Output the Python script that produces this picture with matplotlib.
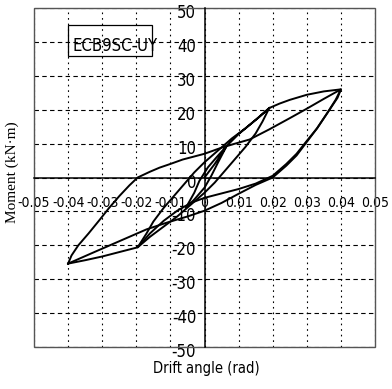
import matplotlib
matplotlib.use("Agg")
import matplotlib.pyplot as plt
from matplotlib.patches import Rectangle
from matplotlib.transforms import ScaledTranslation

# Specimen ECB9SC-UY: moment vs drift angle, cyclic loading history
specimen = "ECB9SC-UY"

# Small cycles (about +/-0.007 rad)
small_drift = [0.0, 0.003, 0.0065, 0.004, 0.002, 0.0, -0.003, -0.0055,
               -0.003, -0.0015, 0.001, 0.004, 0.0065]
small_moment = [0.0, 4.0, 9.3, 4.5, 0.5, -3.0, -6.5, -9.0,
                -4.5, -1.0, 3.0, 6.5, 9.3]

# Cycle to +/-0.02 rad
mid_drift = [0.0065, 0.010, 0.015, 0.019, 0.017, 0.015, 0.012, 0.009, 0.006,
             0.003, 0.0, -0.004, -0.008, -0.012, -0.016, -0.0196,
             -0.017, -0.015, -0.012, -0.009, -0.006, -0.003, 0.0, 0.004,
             0.008, 0.012, 0.016, 0.019]
mid_moment = [9.3, 12.8, 17.0, 20.5, 16.5, 13.0, 9.0, 5.5, 2.0,
              -1.5, -4.5, -8.0, -11.5, -14.5, -17.5, -20.6,
              -16.5, -13.0, -9.0, -5.5, -2.0, 1.5, 4.5, 8.0,
              11.5, 14.5, 17.8, 20.5]

# First cycle to +/-0.04 rad
big1_drift = [0.019, 0.022, 0.025, 0.030, 0.035, 0.040,
              0.039, 0.037, 0.035, 0.033, 0.030, 0.027, 0.024, 0.020,
              0.015, 0.010, 0.005, 0.0, -0.004, -0.008, -0.012, -0.016,
              -0.0196, -0.025, -0.030, -0.035, -0.040]
big1_moment = [20.5, 21.8, 22.9, 24.4, 25.4, 26.0,
               23.5, 20.5, 17.5, 14.5, 10.8, 7.0, 4.0, 0.5,
               -1.8, -3.4, -4.7, -6.0, -7.5, -9.8, -12.8, -16.5,
               -20.6, -22.0, -23.3, -24.4, -25.4]

# Reloading from -0.04 rad and second cycle to +/-0.04 rad
big2_drift = [-0.040, -0.039, -0.037, -0.034, -0.031, -0.028, -0.025,
              -0.022, -0.0196, -0.016, -0.0132, -0.010, -0.0064, -0.003,
              0.0, 0.005, 0.009, 0.0132, 0.019, 0.025, 0.030, 0.035, 0.040,
              0.0385, 0.036, 0.033, 0.030, 0.027, 0.024, 0.020,
              0.015, 0.010, 0.005, 0.0, -0.005, -0.011, -0.017, -0.025,
              -0.033, -0.040]
big2_moment = [-25.4, -23.0, -20.0, -16.5, -12.8, -9.0, -5.5,
               -2.3, 0.0, 1.7, 2.9, 4.0, 5.3, 6.2,
               7.0, 8.8, 10.0, 11.2, 14.2, 17.5, 20.3, 23.2, 26.0,
               23.0, 19.0, 14.5, 10.5, 6.5, 3.5, 0.0,
               -2.2, -4.8, -7.5, -9.8, -11.5, -13.3, -15.3, -18.8,
               -22.3, -25.4]

x_ticks = [-0.05, -0.04, -0.03, -0.02, -0.01, 0.0, 0.01, 0.02, 0.03, 0.04, 0.05]
x_tick_labels = ["-0.05", "-0.04", "-0.03", "-0.02", "-0.01", "0",
                 "0.01", "0.02", "0.03", "0.04", "0.05"]
y_ticks = [-50, -40, -30, -20, -10, 0, 10, 20, 30, 40, 50]
y_tick_labels = ["-50", "-40", "-30", "-20", "-10", "0",
                 "10", "20", "30", "40", "50"]

narrow = dict(family=["DejaVu Sans"], stretch="condensed")

fig = plt.figure(figsize=(3.92, 3.89), dpi=100)
fig.patch.set_facecolor("white")
ax = fig.add_axes([34 / 392, 1 - 347 / 389, 341 / 392, 339 / 389])
ax.set_xlim(-0.05, 0.05)
ax.set_ylim(-50, 50)

# dashed grid
for xv in x_ticks:
    ax.axvline(xv, color="black", lw=0.8, ls=(0, (1.5, 3.5)), zorder=1)
for yv in y_ticks:
    ax.axhline(yv, color="black", lw=0.8, ls=(0, (4, 3)), zorder=1)

for drift, moment in [(small_drift, small_moment), (mid_drift, mid_moment),
                      (big1_drift, big1_moment), (big2_drift, big2_moment)]:
    ax.plot(drift, moment, color="black", lw=1.4, zorder=3,
            solid_joinstyle="round")

# axes through the origin
ax.spines["left"].set_position(("data", 0))
ax.spines["bottom"].set_position(("data", 0))
for s in ("left", "bottom"):
    ax.spines[s].set_linewidth(1.1)
    ax.spines[s].set_zorder(2)
for s in ("top", "right"):
    ax.spines[s].set_visible(False)
ax.add_patch(Rectangle((0, 0), 1, 1, transform=ax.transAxes, fill=False,
                       ec="#555555", lw=1.0, zorder=2, clip_on=False))

ax.set_xticks(x_ticks)
ax.set_xticklabels(x_tick_labels, fontsize=10, **narrow)
ax.set_yticks(y_ticks)
ax.set_yticklabels(y_tick_labels, fontsize=12, **narrow)
ax.tick_params(axis="both", length=0)
ax.tick_params(axis="y", pad=6)
ax.tick_params(axis="x", pad=13)
for lbl in ax.get_yticklabels():
    lbl.set_transform(lbl.get_transform() +
                      ScaledTranslation(0, -3 / 100, fig.dpi_scale_trans))

# specimen tag
ax.add_patch(Rectangle((-0.04, 35.7), 0.0245, 9.4, fill=False, ec="black",
                       lw=0.9, zorder=4))
ax.text(-0.0388, 37.2, specimen, fontsize=12, ha="left", va="baseline",
        zorder=5, **narrow)

fig.text(12 / 392, 1 - 172 / 389, "Moment (kN\u00b7m)", rotation=90,
         family=["Liberation Serif", "DejaVu Serif"], fontsize=11,
         ha="center", va="center")
fig.text(206 / 392, 1 - 368 / 389, "Drift angle (rad)", fontsize=10.5,
         ha="center", va="center", **narrow)

fig.savefig("out.png", dpi=100)
